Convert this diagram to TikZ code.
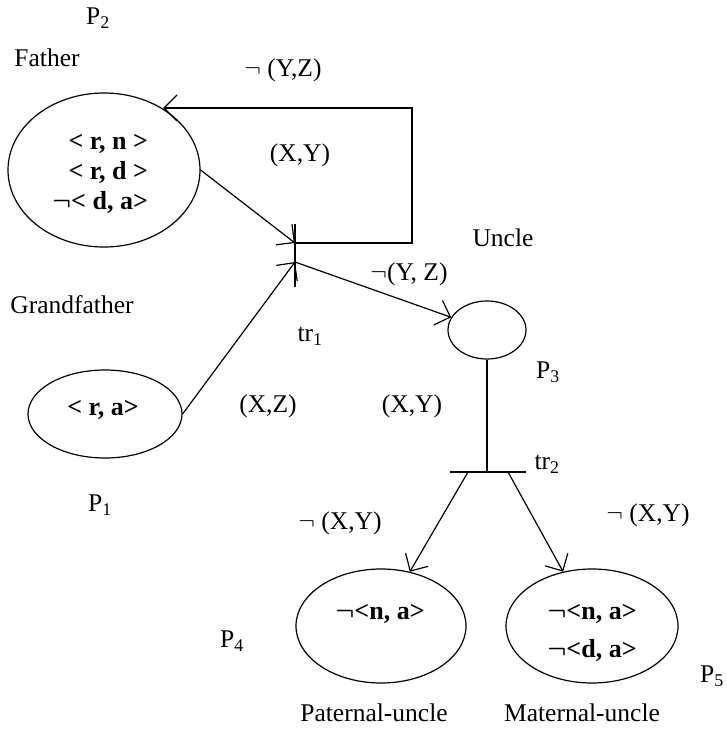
\documentclass[tikz,border=0pt]{standalone}
\usepackage{fontspec}
\setmainfont{Liberation Serif}
\usetikzlibrary{arrows.meta,shapes.geometric}
\newcommand{\nt}{\ensuremath{\neg}}
\begin{document}
\begin{tikzpicture}[x=1pt,y=-1pt,line width=1.2pt,
  lbl/.style={font=\fontsize{25.5}{28}\selectfont,inner sep=0pt},
  blbl/.style={inner sep=0pt,font=\fontsize{26}{30}\selectfont\bfseries\boldmath},
  place/.style={draw,ellipse,inner sep=0pt},
  arr/.style={-{Straight Barb[length=13pt,width=26pt,line width=1.2pt]}}]
\useasboundingbox (0,0) rectangle (726,741);
% places
\node[place,minimum width=192pt,minimum height=154pt] (fa) at (104,170) {};
\node[blbl,align=right] (fat) at (100,174) {< r, n >\\< r, d >\\\nt< d, a>};
\node[place,minimum width=154pt,minimum height=88pt] (gf) at (105,414) {};
\node[blbl] (gft) at (103,410) {< r, a>};
\node[place,minimum width=78pt,minimum height=58pt] (un) at (487,330) {};
\node[place,minimum width=170pt,minimum height=114pt] (p4) at (381,626) {};
\node[blbl] (p4t) at (380,614) {\nt<n, a>};
\node[blbl,font=\fontsize{26}{38}\selectfont\bfseries\boldmath,align=left] (p5t) at (592,633) {\nt<n, a>\\\nt<d, a>};
\node[place,minimum width=172pt,minimum height=114pt] (p5) at (592,626) {};
% transitions
\coordinate (t1top) at (295,224);
\coordinate (t1a) at (295,243);
\coordinate (t1b) at (295,262);
\coordinate (t1bot) at (295,287);
\coordinate (loopR) at (412,108);
\coordinate (t2) at (487,472);
\coordinate (t2L) at (450,472);
\coordinate (t2R) at (526,472);
\coordinate (t2l) at (468,472);
\coordinate (t2r) at (508,472);
\draw (t1top) -- (t1bot);
\draw (t2L) -- (t2R);
% arcs
\draw[arr] (t1a) -| (loopR) -- (fa.46 |- loopR);
\draw[arr] (fa.east) -- (t1a);
\draw[arr] (gf.east) -- (t1b);
\draw[arr] (t1b) -- (un);
\draw (un.south) -- (t2);
\draw[arr] (t2l) -- (p4.62);
\draw[arr] (t2r) -- (p5.118);
% labels
\node[lbl] (lp2) at (98,18) {P\textsubscript{2}};
\node[lbl] (lfa) at (47,58) {Father};
\node[lbl] (lyz1) at (283,70) {\nt\ (Y,Z)};
\node[lbl] (lxy1) at (300,155) {(X,Y)};
\node[lbl] (lun) at (503,238) {Uncle};
\node[lbl] (lyz2) at (409,274) {\nt(Y, Z)};
\node[lbl] (lgf) at (72,305) {Grandfather};
\node[lbl] (ltr1) at (310,336) {tr\textsubscript{1}};
\node[lbl] (lp3) at (548,372) {P\textsubscript{3}};
\node[lbl] (lxz) at (268,406) {(X,Z)};
\node[lbl] (lxy2) at (412,406) {(X,Y)};
\node[lbl] (ltr2) at (547,464) {tr\textsubscript{2}};
\node[lbl] (lp1) at (100,505) {P\textsubscript{1}};
\node[lbl] (lnxy1) at (340,523) {\nt\ (X,Y)};
\node[lbl] (lnxy2) at (648,515) {\nt\ (X,Y)};
\node[lbl] (lp4) at (232,641) {P\textsubscript{4}};
\node[lbl] (lp5) at (712,676) {P\textsubscript{5}};
\node[lbl] (lpu) at (374,713) {Paternal-uncle};
\node[lbl] (lmu) at (582,713) {Maternal-uncle};
\end{tikzpicture}
\end{document}
